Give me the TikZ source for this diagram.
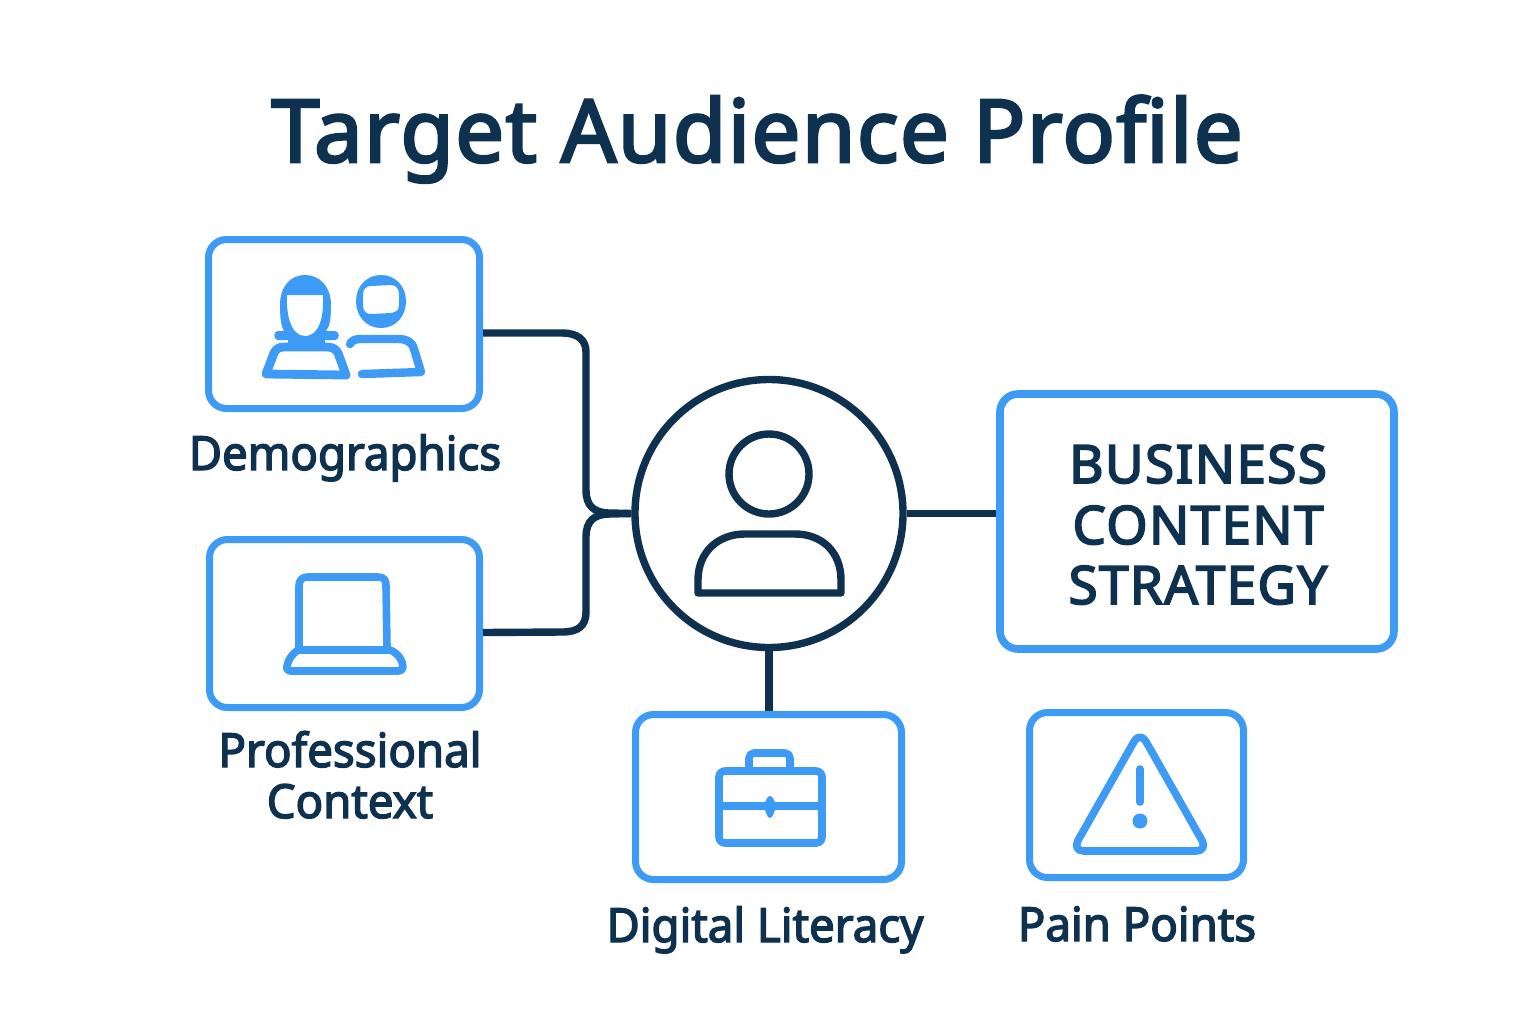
\documentclass[tikz,border=0pt]{standalone}
\usepackage{fontspec}
\setmainfont[FakeBold=3.2,LetterSpace=2.6]{Noto Sans}
\newfontfamily\lblfont[FakeBold=3.0,FakeStretch=0.97]{Noto Sans}
\newfontfamily\ttlfont[FakeBold=3.0,LetterSpace=1.5]{Noto Sans}
\definecolor{iconblue}{HTML}{3D9BF6}
\definecolor{navy}{HTML}{0F3150}
\tikzset{
  x=0.5pt,y=-0.5pt,
  boxstyle/.style={draw=iconblue,line width=3.5pt,rounded corners=9pt,fill=white,inner sep=0pt},
  wire/.style={draw=navy,line width=3.7pt},
  iconline/.style={draw=iconblue,line width=3.8pt,line join=round,line cap=round},
  iconfill/.style={fill=iconblue,even odd rule},
  lbl/.style={text=navy,anchor=base,inner sep=0pt,font=\lblfont\fontsize{23.5}{25}\selectfont},
  biz/.style={text=navy,anchor=base,inner sep=0pt,font=\fontsize{26.5}{28}\selectfont},
}
\begin{document}
\begin{tikzpicture}
\useasboundingbox (0,0) rectangle (1536,1024);
\fill[white] (0,0) rectangle (1536,1024);
\node[text=navy,anchor=base,inner sep=0pt,font=\ttlfont\fontsize{43.5}{50}\selectfont] (title) at (757,162) {Target Audience Profile};

\node[boxstyle,minimum width=135.5pt,minimum height=84.5pt] (demo) at (344,324) {};
\node[boxstyle,minimum width=135pt,minimum height=84pt] (prof) at (344.5,623.5) {};
\node[boxstyle,minimum width=133pt,minimum height=82.5pt] (digital) at (768.5,797) {};
\node[boxstyle,minimum width=107pt,minimum height=82.5pt] (pain) at (1136.5,795) {};
\node[boxstyle,line width=3.8pt,minimum width=197pt,minimum height=127.5pt] (business) at (1197,521.5) {};
\node[circle,draw=navy,line width=3.7pt,fill=white,minimum size=134pt,inner sep=0pt] (hub) at (769,513.5) {};

\coordinate (bendA) at (586,352);
\coordinate (bendB) at (586,612);
\draw[wire] ([yshift=-4.5pt]demo.east) -- (562,333) .. controls (578,333) and (586,340) .. (bendA) -- (586,490) .. controls (586,506) and (594,513) .. (610,513) -- (hub.west);
\draw[wire] ([yshift=-4.5pt]prof.east) -- (562,632) .. controls (578,632) and (586,626) .. (bendB) -- (586,537) .. controls (586,521) and (594,514) .. (610,514) -- (hub.west);
\draw[wire] (hub.east) -- (business.west |- hub.east);
\draw[wire] (hub.south) -- (hub.south |- digital.north);

% hub person
\draw[draw=navy,line width=3.7pt] (769,474) circle[radius=40];
\draw[draw=navy,line width=3.7pt,line join=round] (698,593) -- (698,580) .. controls (698,552) and (718,534) .. (745,534) -- (795,534) .. controls (822,534) and (841,552) .. (841,580) -- (841,593) -- cycle;

% demographics icon
\path[iconfill] (280,305) .. controls (280,287) and (290,275) .. (305,275) .. controls (320,275) and (331,287) .. (331,305) .. controls (331,318) and (330,326) .. (326,331) -- (335,331) .. controls (340,331) and (340,340) .. (335,340) -- (278,340) .. controls (273,340) and (273,331) .. (278,331) -- (284,331) .. controls (281,326) and (280,318) .. (280,305) -- cycle
 (287,295) -- (323,295) .. controls (324,315) and (320,336) .. (305,336) .. controls (291,336) and (286,315) .. (287,295) -- cycle;
\fill[iconblue] (288,339) rectangle (325,348);
\draw[iconline,line width=4.4pt] (266,374) -- (274,353) .. controls (276,349) and (279,347) .. (284,347) -- (327,347) .. controls (332,347) and (336,349) .. (338,353) -- (346,375) -- cycle;
\path[iconfill] (381,275) .. controls (396,275) and (406,287) .. (406,301) .. controls (406,316) and (396,328) .. (381,328) .. controls (366,328) and (356,316) .. (356,301) .. controls (356,287) and (366,275) .. (381,275) -- cycle
 (371,286) -- (391,285) .. controls (396,285) and (399,289) .. (399,294) -- (399,305) .. controls (399,311) and (396,312) .. (391,313) -- (371,314) .. controls (366,314) and (363,311) .. (363,305) -- (363,295) .. controls (363,289) and (366,286) .. (371,286) -- cycle;
\draw[iconline,line width=4.2pt] (350,344) .. controls (352,340) and (356,339) .. (361,339) -- (398,339) .. controls (407,339) and (412,342) .. (414,349) -- (421,372) -- (362,374);

% laptop icon
\draw[iconline] (299,647) -- (299,586) .. controls (299,580) and (302,577) .. (308,577) -- (378,577) .. controls (384,577) and (386,580) .. (386,586) -- (387,647);
\draw[iconline] (298,650) -- (390,650) .. controls (398,653) and (403,661) .. (403,667) .. controls (403,670) and (401,671) .. (398,671) -- (291,671) .. controls (288,671) and (286,669) .. (287,666) .. controls (288,660) and (292,654) .. (298,650) -- cycle;

% briefcase icon
\draw[iconline,rounded corners=3pt] (719,771) rectangle (822,843);
\draw[iconline] (719,806) -- (822,806);
\draw[iconline,rounded corners=2.5pt] (749,771) -- (749,753) -- (790,753) -- (790,771);
\fill[iconblue] (770,796) .. controls (774,796) and (773,802) .. (778,806) .. controls (773,810) and (774,818) .. (770,818) .. controls (766,818) and (767,810) .. (762,806) .. controls (767,802) and (766,796) .. (770,796) -- cycle;

% warning icon
\draw[iconline,rounded corners=6pt] (1140,731) -- (1208,851) -- (1072,851) -- cycle;
\draw[iconline] (1140,769) -- (1140,802);
\fill[iconblue] (1140,821) circle[radius=7.5];

% labels
\node[lbl] (l1) at (345,470) {Demographics};
\node[lbl] (l2) at (350,767) {Professional};
\node[lbl] (l3) at (350,818) {Context};
\node[lbl] (l4) at (765,942) {Digital Literacy};
\node[lbl] (l5) at (1137,941) {Pain Points};
\node[biz] (b1) at (1198,483) {BUSINESS};
\node[biz] (b2) at (1198,544) {CONTENT};
\node[biz] (b3) at (1198,604) {STRATEGY};
\end{tikzpicture}
\end{document}
